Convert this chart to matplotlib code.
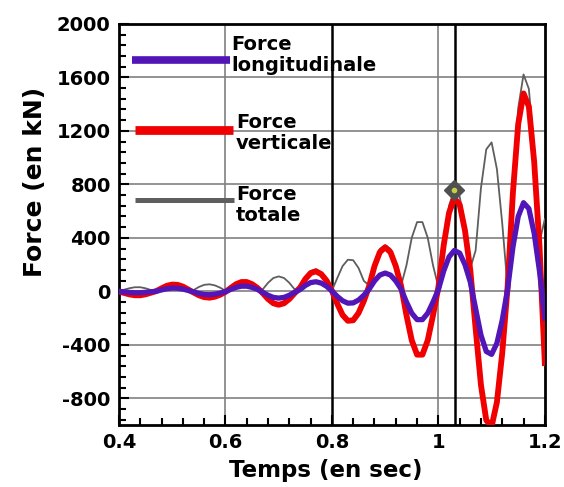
import matplotlib
matplotlib.use("Agg")
import matplotlib.pyplot as plt
import numpy as np
from matplotlib.ticker import MultipleLocator, FuncFormatter

# time axis (s), one reading every 0.01 s
temps = np.round(np.arange(0.40, 1.2001, 0.01), 2)

# force verticale (kN)
f_vert = [-2, -12, -23, -29, -29, -22, -10, 2, 23, 42,
          51, 49, 36, 14, -8, -29, -43, -47, -40, -25,
          -4, 26, 54, 70, 70, 54, 26, -13, -57, -89,
          -100, -89, -57, -13, 27, 92, 137, 150, 129, 80,
          5, -92, -176, -220, -216, -162, -72, 40, 189, 293,
          330, 293, 189, 40, -177, -366, -473, -473, -366, -177,
          30, 345, 587, 696, 649, 455, 158, -277, -700, -963,
          -1010, -828, -460, 30, 735, 1251, 1480, 1382, 969, 337,
          -536]

# force longitudinale (kN)
f_long = [-1, -4, -8, -10, -10, -7, -3, 1, 11, 20,
          25, 24, 17, 7, -4, -15, -23, -25, -21, -13,
          -2, 15, 30, 39, 39, 30, 15, -7, -29, -45,
          -50, -45, -29, -7, 13, 44, 66, 72, 62, 38,
          3, -37, -70, -88, -86, -65, -29, 17, 78, 122,
          137, 122, 78, 17, -79, -163, -211, -211, -163, -79,
          13, 152, 258, 306, 286, 200, 70, -129, -327, -449,
          -471, -387, -215, 14, 329, 560, 663, 619, 434, 151,
          -200]

# force totale (kN)
f_tot = [2, 13, 24, 31, 31, 23, 10, 2, 25, 46,
         57, 55, 40, 16, 9, 33, 49, 53, 45, 28,
         4, 30, 62, 80, 80, 62, 30, 15, 64, 100,
         112, 100, 64, 15, 30, 102, 152, 166, 143, 88,
         6, 99, 189, 237, 233, 175, 78, 44, 204, 318,
         345, 318, 204, 44, 194, 401, 518, 518, 401, 194,
         33, 377, 641, 760, 709, 497, 173, 306, 773, 1062,
         1114, 914, 508, 33, 805, 1370, 1622, 1514, 1062, 369,
         540]

t_repere = [0.8, 1.032]   # vertical markers
t_point = 1.03            # highlighted point on total force

c_long = '#5216b8'
c_vert = '#f00000'
c_tot = '#5e5e5e'

fig = plt.figure(figsize=(5.64, 4.87), dpi=100)
ax = fig.add_axes([0.211, 0.127, 0.755, 0.824])

ax.set_xlim(0.4, 1.2)
ax.set_ylim(-1000, 2000)

# grid
for y in range(-800, 2001, 400):
    ax.axhline(y, color='#808080', lw=1.2, zorder=1)
for x in [0.6, 1.0]:
    ax.axvline(x, color='#808080', lw=1.2, zorder=1)
for x in t_repere:
    ax.axvline(x, color='black', lw=1.8, zorder=2)

ax.plot(temps, f_tot, color=c_tot, lw=1.3, zorder=3)
ax.plot(temps, f_vert, color=c_vert, lw=4.2, zorder=4)
ax.plot(temps, f_long, color=c_long, lw=3.8, zorder=5)

i = int(np.argmin(np.abs(temps - t_point)))
ax.plot([temps[i]], [f_tot[i]], marker='D', ms=10, color='#505050', zorder=6)
ax.plot([temps[i]], [f_tot[i]], marker='o', ms=3, color='#c8d040', zorder=7)

# hand-made legend
leg = [(c_long, 5.5, 0.031, 0.261, 0.91, 'Force\nlongitudinale', 0.263, 0.013),
       (c_vert, 6.3, 0.038, 0.268, 0.736, 'Force\nverticale', 0.275, -0.008),
       (c_tot, 3.6, 0.038, 0.270, 0.561, 'Force\ntotale', 0.275, -0.012)]
for col, lw, x0, x1, yy, lab, xt, dy in leg:
    ax.plot([x0, x1], [yy, yy], color=col, lw=lw,
            transform=ax.transAxes, solid_capstyle='butt', zorder=8)
    ax.text(xt, yy + dy, lab, transform=ax.transAxes, fontsize=14,
            fontweight='bold', va='center', ha='left', linespacing=1.15,
            zorder=9)

ax.xaxis.set_major_locator(MultipleLocator(0.2))
ax.xaxis.set_minor_locator(MultipleLocator(0.04))
ax.yaxis.set_major_locator(MultipleLocator(400))
ax.yaxis.set_minor_locator(MultipleLocator(80))
ax.xaxis.set_major_formatter(FuncFormatter(lambda v, p: '%g' % round(v, 2)))
ax.yaxis.set_major_formatter(FuncFormatter(lambda v, p: '%d' % v if v > -1000 else ''))

ax.tick_params(which='both', direction='in', top=False, right=False,
               width=1.5, labelsize=14)
ax.tick_params(which='major', length=7, pad=6)
ax.tick_params(which='minor', length=5)
for lab in ax.get_xticklabels() + ax.get_yticklabels():
    lab.set_fontweight('bold')
for s in ax.spines.values():
    s.set_linewidth(2)

ax.set_xlabel('Temps (en sec)', fontsize=16.5, fontweight='bold')
ax.set_ylabel('Force (en kN)', fontsize=18, fontweight='bold')
ax.xaxis.set_label_coords(0.486, -0.085)
ax.yaxis.set_label_coords(-0.17, 0.605)

fig.savefig('out.png', dpi=100)
